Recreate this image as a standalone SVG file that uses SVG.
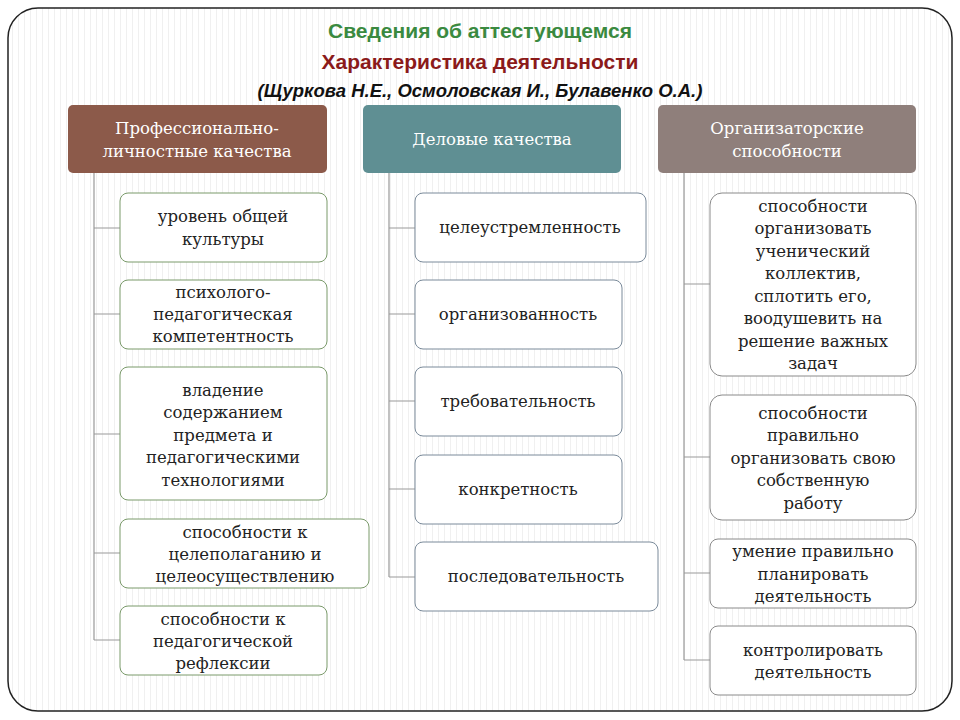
<svg xmlns="http://www.w3.org/2000/svg" width="960" height="720" viewBox="0 0 960 720">
<defs>
<pattern id="st" width="6" height="10" patternUnits="userSpaceOnUse"><rect width="6" height="10" fill="#fff"/><rect width="1" height="10" fill="#f0f0f0"/></pattern>
</defs>
<style>
.h{font-family:"DejaVu Serif","Liberation Serif",serif;font-size:16.5px;fill:#fff;text-anchor:middle}
.t{font-family:"DejaVu Serif","Liberation Serif",serif;font-size:16.5px;fill:#222;text-anchor:middle}
.b1{fill:#fff;stroke:#7a9a6a;stroke-width:1}
.b2{fill:#fff;stroke:#7a8a9a;stroke-width:1}
.b3{fill:#fff;stroke:#8a8a8a;stroke-width:1}
.ln{stroke:#999;stroke-width:1.2;fill:none}
</style>
<rect x="0" y="0" width="960" height="720" fill="#fff"/>
<rect x="8" y="8" width="944" height="703" rx="30" fill="url(#st)" stroke="#222" stroke-width="1.5"/>
<g font-family="Liberation Sans,Arial,sans-serif" font-weight="bold" text-anchor="middle">
<text x="480" y="38" font-size="21" fill="#3a8a40">Сведения об аттестующемся</text>
<text x="480" y="69" font-size="21" fill="#8b1a1a">Характеристика деятельности</text>
<text x="480" y="97" font-size="18.5" font-style="italic" fill="#111">(Щуркова Н.Е., Осмоловская И., Булавенко О.А.)</text>
</g>
<g id="connectors">
<path class="ln" d="M94 173V640M94 228H120M94 314H120M94 434H120M94 553H120M94 640H120"/>
<path class="ln" d="M389 173V577M389 228H415M389 314H415M389 401H415M389 489H415M389 577H415"/>
<path class="ln" d="M684 173V660M684 284H710M684 457H710M684 573H710M684 660H710"/>
</g>
<g id="h1"><rect x="68" y="105" width="259" height="68" rx="5" fill="#8c5a4a"/><text class="h" x="197" y="134">Профессионально-</text><text class="h" x="197" y="157">личностные качества</text></g>
<g id="h2"><rect x="363" y="105" width="258" height="68" rx="5" fill="#5f8f93"/><text class="h" x="492" y="145">Деловые качества</text></g>
<g id="h3"><rect x="658" y="105" width="258" height="68" rx="5" fill="#8f7f7b"/><text class="h" x="787" y="134">Организаторские</text><text class="h" x="787" y="157">способности</text></g>
<g id="a1"><rect class="b1" x="120" y="193" width="207" height="69" rx="8"/><text class="t" x="223" y="222">уровень общей</text><text class="t" x="223" y="245">культуры</text></g>
<g id="a2"><rect class="b1" x="120" y="280" width="207" height="69" rx="8"/><text class="t" x="223" y="298">психолого-</text><text class="t" x="223" y="320">педагогическая</text><text class="t" x="223" y="342">компетентность</text></g>
<g id="a3"><rect class="b1" x="120" y="367" width="207" height="133" rx="8"/><text class="t" x="223" y="396">владение</text><text class="t" x="223" y="418">содержанием</text><text class="t" x="223" y="441">предмета и</text><text class="t" x="223" y="463">педагогическими</text><text class="t" x="223" y="486">технологиями</text></g>
<g id="a4"><rect class="b1" x="120" y="519" width="249" height="69" rx="8"/><text class="t" x="245" y="538">способности к</text><text class="t" x="245" y="560">целеполаганию и</text><text class="t" x="245" y="582">целеосуществлению</text></g>
<g id="a5"><rect class="b1" x="120" y="606" width="207" height="69" rx="8"/><text class="t" x="223" y="625">способности к</text><text class="t" x="223" y="647">педагогической</text><text class="t" x="223" y="669">рефлексии</text></g>
<g id="b1"><rect class="b2" x="415" y="193" width="231" height="69" rx="8"/><text class="t" x="530" y="233">целеустремленность</text></g>
<g id="b2"><rect class="b2" x="415" y="280" width="207" height="69" rx="8"/><text class="t" x="518" y="320">организованность</text></g>
<g id="b3"><rect class="b2" x="415" y="367" width="207" height="69" rx="8"/><text class="t" x="518" y="407">требовательность</text></g>
<g id="b4"><rect class="b2" x="415" y="455" width="207" height="69" rx="8"/><text class="t" x="518" y="495">конкретность</text></g>
<g id="b5"><rect class="b2" x="415" y="542" width="243" height="69" rx="8"/><text class="t" x="536" y="582">последовательность</text></g>
<g id="c1"><rect class="b3" x="710" y="193" width="206" height="183" rx="12"/><text class="t" x="813" y="212">способности</text><text class="t" x="813" y="234">организовать</text><text class="t" x="813" y="257">ученический</text><text class="t" x="813" y="279">коллектив,</text><text class="t" x="813" y="302">сплотить его,</text><text class="t" x="813" y="324">воодушевить на</text><text class="t" x="813" y="347">решение важных</text><text class="t" x="813" y="369">задач</text></g>
<g id="c2"><rect class="b3" x="710" y="395" width="206" height="125" rx="12"/><text class="t" x="813" y="419">способности</text><text class="t" x="813" y="441">правильно</text><text class="t" x="813" y="464">организовать свою</text><text class="t" x="813" y="486">собственную</text><text class="t" x="813" y="509">работу</text></g>
<g id="c3"><rect class="b3" x="710" y="539" width="206" height="69" rx="8"/><text class="t" x="813" y="557">умение правильно</text><text class="t" x="813" y="580">планировать</text><text class="t" x="813" y="602">деятельность</text></g>
<g id="c4"><rect class="b3" x="710" y="626" width="206" height="69" rx="8"/><text class="t" x="813" y="656">контролировать</text><text class="t" x="813" y="678">деятельность</text></g>
</svg>
